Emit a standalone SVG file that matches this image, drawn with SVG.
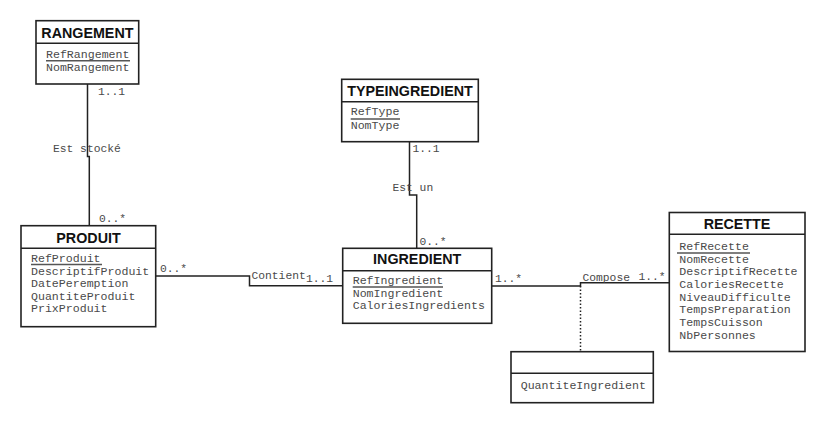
<svg xmlns="http://www.w3.org/2000/svg" width="827" height="428" viewBox="0 0 827 428">
<style>
.box{fill:#fff;stroke:#222;stroke-width:1.6}
.div{stroke:#222;stroke-width:1.4}
.title{font-family:"Liberation Sans",Arial,sans-serif;font-weight:bold;font-size:14.3px;fill:#111;text-anchor:middle}
.attr{font-family:"Liberation Mono","Courier New",monospace;font-size:11.6px;fill:#4a4a4a}
.lbl{font-family:"Liberation Mono","Courier New",monospace;font-size:11.3px;fill:#4a4a4a}
.ul{stroke:#555;stroke-width:1.4}
.conn{fill:none;stroke:#222;stroke-width:1.5}
.dot{fill:none;stroke:#222;stroke-width:1.5;stroke-dasharray:1.5 2}
</style>
<rect width="827" height="428" fill="#fff"/>
<g id="connectors">
<polyline class="conn" points="87.5,84 87.5,156.5 89.3,156.5 89.3,226"/>
<polyline class="conn" points="409.5,141.7 409.5,195 416.7,195 416.7,248.3"/>
<polyline class="conn" points="155.7,276 249.5,276 249.5,285.7 342.7,285.7"/>
<polyline class="conn" points="491.7,286 580.5,286 580.5,282.7 669.3,282.7"/>
<line class="dot" x1="580.5" y1="286" x2="580.5" y2="351.7"/>
<text class="lbl" x="98" y="95">1..1</text>
<text class="lbl" x="53" y="152">Est stocké</text>
<text class="lbl" x="99" y="222">0..*</text>
<text class="lbl" x="412.5" y="152">1..1</text>
<text class="lbl" x="392.5" y="191">Est un</text>
<text class="lbl" x="419.5" y="245">0..*</text>
<text class="lbl" x="160" y="272">0..*</text>
<text class="lbl" x="251.5" y="278.5">Contient</text>
<text class="lbl" x="306" y="282">1..1</text>
<text class="lbl" x="495" y="282">1..*</text>
<text class="lbl" x="582.5" y="281">Compose</text>
<text class="lbl" x="638.5" y="280">1..*</text>
</g>
<g id="rangement">
<rect class="box" x="36" y="20.7" width="102.7" height="63.3"/>
<line class="div" x1="36" y1="43.3" x2="138.7" y2="43.3"/>
<text class="title" x="87.4" y="37.5">RANGEMENT</text>
<text class="attr" x="46" y="58">RefRangement</text>
<line class="ul" x1="46" y1="60.8" x2="130" y2="60.8"/>
<text class="attr" x="46" y="70.7">NomRangement</text>
</g>
<g id="typeingredient">
<rect class="box" x="341.7" y="79.3" width="136.6" height="62.4"/>
<line class="div" x1="341.7" y1="101.7" x2="478.3" y2="101.7"/>
<text class="title" x="410" y="95.5">TYPEINGREDIENT</text>
<text class="attr" x="350.7" y="115">RefType</text>
<line class="ul" x1="350.7" y1="119" x2="400" y2="119"/>
<text class="attr" x="350.7" y="128.5">NomType</text>
</g>
<g id="produit">
<rect class="box" x="21" y="225.7" width="134.7" height="101"/>
<line class="div" x1="21" y1="248.3" x2="155.7" y2="248.3"/>
<text class="title" x="88.5" y="242.5">PRODUIT</text>
<text class="attr" x="31" y="261.7">RefProduit</text>
<line class="ul" x1="31" y1="264.5" x2="102" y2="264.5"/>
<text class="attr" x="31" y="274.5">DescriptifProduit</text>
<text class="attr" x="31" y="287.2">DatePeremption</text>
<text class="attr" x="31" y="299.6">QuantiteProduit</text>
<text class="attr" x="31" y="312">PrixProduit</text>
</g>
<g id="ingredient">
<rect class="box" x="342.7" y="248.3" width="149" height="75"/>
<line class="div" x1="342.7" y1="270.7" x2="491.7" y2="270.7"/>
<text class="title" x="417.2" y="264.3">INGREDIENT</text>
<text class="attr" x="352.7" y="284">RefIngredient</text>
<line class="ul" x1="352.7" y1="287" x2="443" y2="287"/>
<text class="attr" x="352.7" y="296.5">NomIngredient</text>
<text class="attr" x="352.7" y="309">CaloriesIngredients</text>
</g>
<g id="recette">
<rect class="box" x="669.3" y="212.5" width="135.7" height="139"/>
<line class="div" x1="669.3" y1="234.3" x2="805" y2="234.3"/>
<text class="title" x="737" y="228.5">RECETTE</text>
<text class="attr" x="679.3" y="250">RefRecette</text>
<line class="ul" x1="677" y1="253" x2="750" y2="253"/>
<text class="attr" x="679.3" y="262.7">NomRecette</text>
<text class="attr" x="679.3" y="275.3">DescriptifRecette</text>
<text class="attr" x="679.3" y="288">CaloriesRecette</text>
<text class="attr" x="679.3" y="300.7">NiveauDifficulte</text>
<text class="attr" x="679.3" y="313.3">TempsPreparation</text>
<text class="attr" x="679.3" y="326">TempsCuisson</text>
<text class="attr" x="679.3" y="338.7">NbPersonnes</text>
</g>
<g id="compose-class">
<rect class="box" x="511" y="351.7" width="142.3" height="51"/>
<line class="div" x1="511" y1="373.3" x2="653.3" y2="373.3"/>
<text class="attr" x="520.7" y="388.5">QuantiteIngredient</text>
</g>
</svg>
